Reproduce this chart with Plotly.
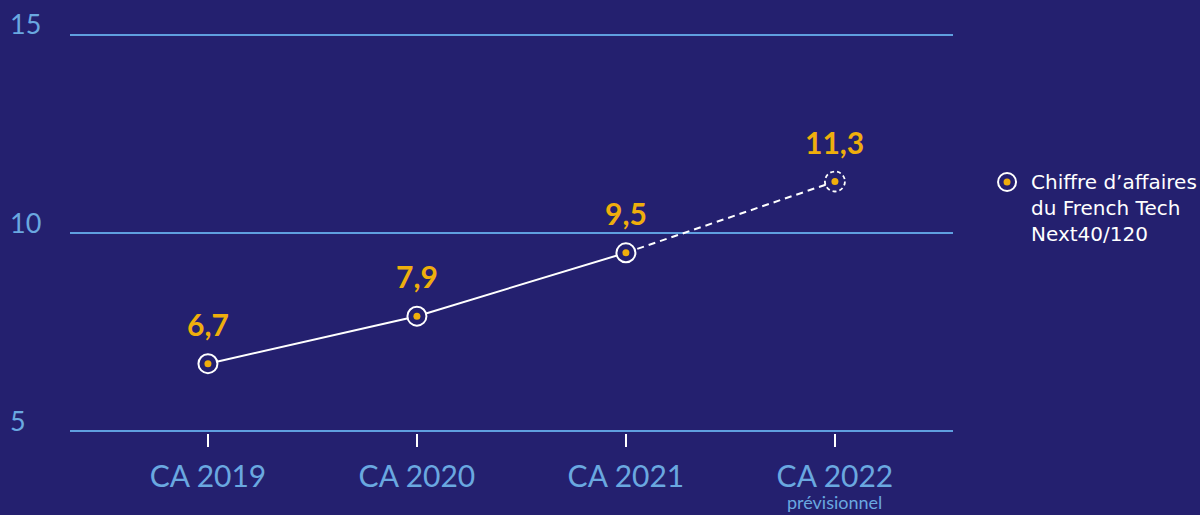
import plotly.graph_objects as go

categories = ["CA 2019", "CA 2020", "CA 2021", "CA 2022"]
sub_labels = ["", "", "", "prévisionnel"]
values = [6.7, 7.9, 9.5, 11.3]
forecast_flags = [False, False, False, True]
y_ticks = [5, 10, 15]
legend_text = "Chiffre d’affaires<br>du French Tech<br>Next40/120"

BG = "#24206F"
GRID = "#5F9FE0"
TICKCOL = "#6AA8E0"
ORANGE = "#EFAE0C"
FONT = "Lato"

x = list(range(len(categories)))
actual_idx = [i for i, f in enumerate(forecast_flags) if not f]
last_actual = actual_idx[-1]
fc_idx = [last_actual] + [i for i, f in enumerate(forecast_flags) if f]

fig = go.Figure()
fig.add_trace(go.Scatter(x=[x[i] for i in actual_idx], y=[values[i] for i in actual_idx],
                         mode="lines", line=dict(color="white", width=2), showlegend=False,
                         hoverinfo="skip"))
fig.add_trace(go.Scatter(x=[x[i] for i in fc_idx], y=[values[i] for i in fc_idx],
                         mode="lines", line=dict(color="white", width=2, dash="7px,5px"),
                         showlegend=False, hoverinfo="skip"))
fig.add_trace(go.Scatter(x=x, y=values, mode="markers",
                         marker=dict(size=19, color=BG,
                                     line=dict(color="white",
                                               width=[0 if f else 2 for f in forecast_flags])),
                         showlegend=False, hoverinfo="skip"))
fig.add_trace(go.Scatter(x=x, y=values, mode="markers",
                         marker=dict(size=7, color=ORANGE), showlegend=False,
                         hovertemplate="%{y}<extra></extra>"))

shapes = []
for i, f in enumerate(forecast_flags):
    if f:
        shapes.append(dict(type="circle", xref="x", yref="y", xsizemode="pixel", ysizemode="pixel",
                           xanchor=x[i], yanchor=values[i], x0=-10, x1=10, y0=-10, y1=10,
                           line=dict(color="white", width=1.8, dash="4px,3px"), layer="above"))
lx, ly = 1.0612, 0.6275
shapes.append(dict(type="circle", xref="paper", yref="paper", xsizemode="pixel", ysizemode="pixel",
                   xanchor=lx, yanchor=ly, x0=-9, x1=9, y0=-9, y1=9,
                   line=dict(color="white", width=2), fillcolor=BG))
shapes.append(dict(type="circle", xref="paper", yref="paper", xsizemode="pixel", ysizemode="pixel",
                   xanchor=lx, yanchor=ly, x0=-3.5, x1=3.5, y0=-3.5, y1=3.5,
                   line=dict(width=0), fillcolor=ORANGE))

annotations = []
for xi, v in zip(x, values):
    annotations.append(dict(x=xi, y=v, xref="x", yref="y", text=f"{v:.1f}".replace(".", ","),
                            showarrow=False, yshift=40,
                            font=dict(family=FONT, size=30, color=ORANGE, weight="bold")))
for t in y_ticks:
    annotations.append(dict(x=-0.0702, y=t, xref="paper", yref="y", text=str(t), showarrow=False,
                            xanchor="left", yanchor="middle", yshift=11,
                            font=dict(family=FONT, size=27, color=TICKCOL)))
for xi, s in zip(x, sub_labels):
    if s:
        annotations.append(dict(x=xi, y=0, xref="x", yref="paper", text=s, showarrow=False,
                                yanchor="bottom", yshift=-82,
                                font=dict(family=FONT, size=18, color=TICKCOL)))
annotations.append(dict(x=1.0860, y=0.6625, xref="paper", yref="paper", text=legend_text,
                        showarrow=False, xanchor="left", yanchor="top", align="left",
                        font=dict(family="DejaVu Sans", size=20, color="white")))

fig.update_layout(
    width=1200, height=515,
    paper_bgcolor=BG, plot_bgcolor=BG,
    margin=dict(l=70, r=247, t=33, b=82, autoexpand=False),
    xaxis=dict(range=[-0.66, 3.565], tickvals=x, ticktext=categories, showgrid=False,
               zeroline=False, showline=False, ticks="outside", ticklen=13, tickwidth=2,
               tickcolor="white", automargin=False, ticklabelstandoff=4,
               tickfont=dict(family=FONT, size=30, color=TICKCOL)),
    yaxis=dict(range=[4.95, 15.05], tickvals=y_ticks, showticklabels=False, showgrid=True,
               gridcolor=GRID, gridwidth=2, zeroline=False, showline=False, automargin=False),
    shapes=shapes, annotations=annotations, showlegend=False,
)

fig.write_html("out.html", config={"displayModeBar": False},
               post_script="document.body.style.margin='0';document.body.style.background='#24206F';")
